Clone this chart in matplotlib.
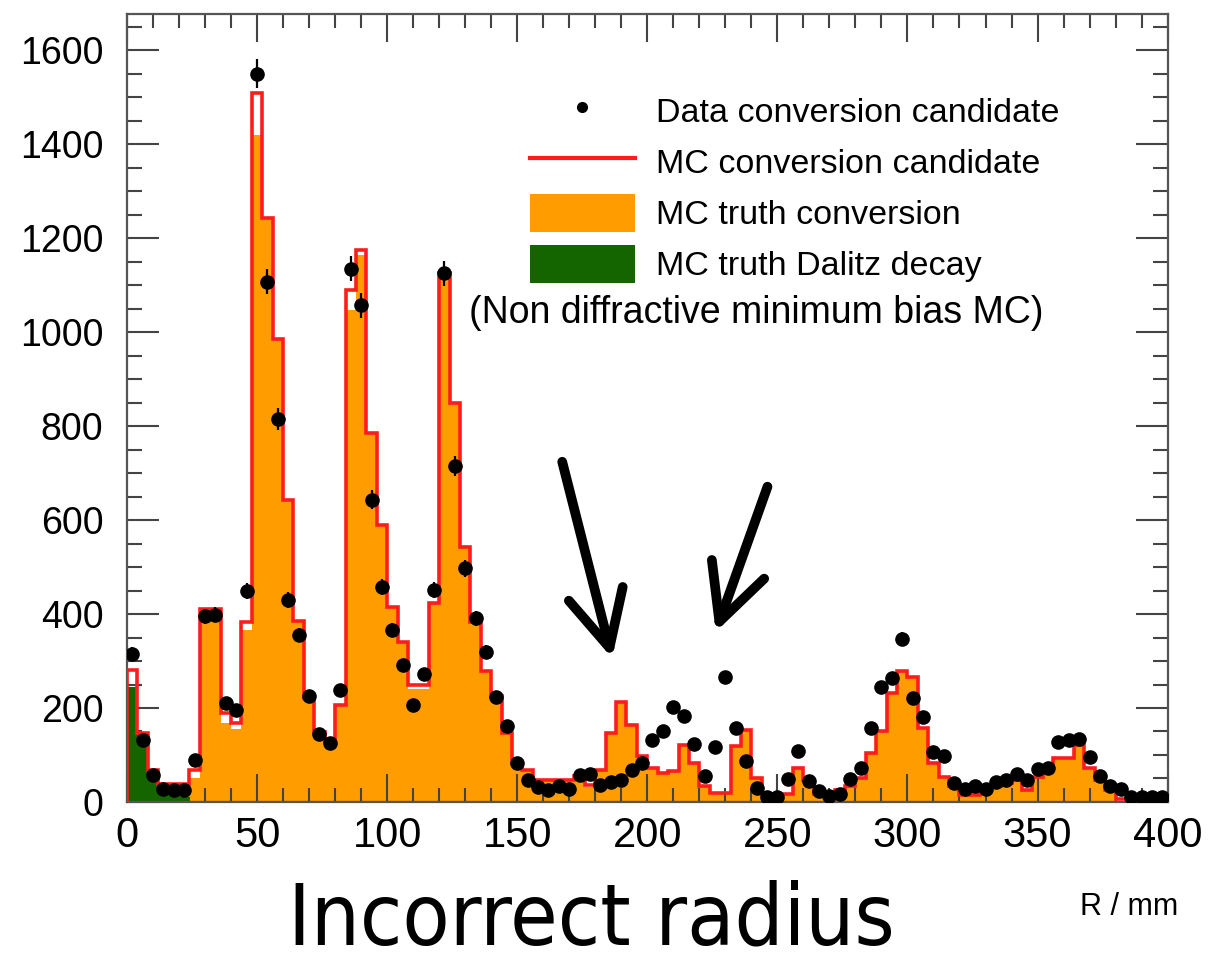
import numpy as np
import matplotlib
matplotlib.use("Agg")
import matplotlib.pyplot as plt
from matplotlib.lines import Line2D
from matplotlib.patches import Patch
from matplotlib.ticker import MultipleLocator

# radius histogram, 100 bins of 4 mm from 0 to 400 mm
bin_edges = np.linspace(0, 400, 101)

# MC conversion candidates (red outline)
mc_candidate = [
    281, 146, 68, 39, 38, 38, 68, 410, 410, 189,
    168, 384, 1508, 1242, 985, 643, 385, 222, 148, 130,
    206, 1089, 1174, 785, 589, 415, 341, 249, 249, 423,
    1125, 850, 542, 382, 278, 225, 147, 86, 68, 46,
    46, 46, 46, 55, 36, 68, 146, 213, 164, 98,
    72, 62, 66, 121, 82, 33, 19, 19, 119, 153,
    50, 18, 18, 18, 72, 47, 18, 18, 25, 35,
    50, 105, 150, 231, 279, 267, 158, 84, 54, 35,
    15, 15, 24, 33, 40, 47, 26, 54, 70, 93,
    93, 121, 72, 47, 25, 6, 3, 3, 3, 3,
]

# MC truth conversions (orange fill)
mc_truth_conv = [
    0, 0, 0, 0, 0, 28, 52, 405, 405, 168,
    155, 366, 1419, 1240, 985, 643, 385, 222, 148, 130,
    206, 1047, 1164, 785, 589, 415, 341, 240, 240, 423,
    1125, 850, 542, 382, 278, 225, 147, 86, 68, 46,
    46, 46, 46, 55, 32, 68, 146, 213, 164, 98,
    72, 62, 66, 121, 82, 33, 16, 16, 119, 153,
    50, 15, 15, 16, 72, 47, 16, 16, 25, 35,
    50, 105, 150, 231, 279, 267, 158, 84, 54, 35,
    15, 15, 24, 33, 40, 47, 26, 54, 70, 93,
    93, 121, 72, 47, 25, 2, 1, 1, 1, 1,
]

# MC truth Dalitz decays (green fill)
mc_truth_dalitz = [242, 142, 62, 36, 28, 8] + [0] * 94

# data conversion candidates (black points)
data_counts = [
    315, 132, 58, 28, 25, 25, 90, 395, 398, 210,
    195, 450, 1550, 1107, 815, 430, 355, 225, 145, 125,
    238, 1135, 1057, 643, 458, 366, 291, 206, 272, 451,
    1125, 715, 497, 391, 320, 224, 162, 84, 47, 32,
    25, 33, 27, 58, 60, 37, 42, 46, 68, 84,
    132, 150, 203, 182, 123, 56, 118, 265, 158, 87,
    30, 10, 10, 48, 108, 45, 23, 13, 18, 48,
    72, 157, 244, 263, 347, 221, 181, 107, 97, 41,
    27, 34, 28, 43, 46, 60, 46, 70, 72, 128,
    132, 134, 96, 55, 35, 27, 11, 10, 10, 11,
]

legend_labels = [
    "Data conversion candidate",
    "MC conversion candidate",
    "MC truth conversion",
    "MC truth Dalitz decay",
]
note_text = "(Non diffractive minimum bias MC)"

ORANGE = "#ff9c00"
GREEN = "#146400"
RED = "#ff1c1c"

plt.rcParams["font.family"] = ["Liberation Sans", "DejaVu Sans"]

fig = plt.figure(figsize=(12.15, 9.66), dpi=100)
ax = fig.add_axes([0.1045, 0.1698, 0.8565, 0.8157])

bin_centers = 0.5 * (bin_edges[:-1] + bin_edges[1:])
counts = np.array(data_counts, dtype=float)

ax.stairs(mc_truth_conv, bin_edges, fill=True, color=ORANGE, zorder=1)
ax.stairs(mc_truth_dalitz, bin_edges, fill=True, color=GREEN, zorder=2)
ax.stairs(mc_truth_dalitz, bin_edges, color=GREEN, lw=1.5, zorder=2)
ax.stairs(mc_candidate, bin_edges, color=RED, lw=2.6, zorder=3)
ax.errorbar(bin_centers, counts, yerr=0.8 * np.sqrt(counts), fmt="o",
            color="black", ms=9.5, elinewidth=1.6, capsize=0, zorder=4)

# hand drawn arrows pointing at the mismatch
arrow_kw = dict(arrowstyle="->,head_length=1.0,head_width=0.5",
                lw=7, color="black", mutation_scale=40,
                shrinkA=0, shrinkB=0, capstyle="round", joinstyle="round")
ax.annotate("", xy=(186.5, 306), xytext=(167.3, 724), arrowprops=arrow_kw)
ax.annotate("", xy=(226.3, 362), xytext=(246.2, 671), arrowprops=arrow_kw)

ax.set_xlim(0, 400)
ax.set_ylim(0, 1677)
ax.xaxis.set_major_locator(MultipleLocator(50))
ax.xaxis.set_minor_locator(MultipleLocator(10))
ax.yaxis.set_major_locator(MultipleLocator(200))
ax.yaxis.set_minor_locator(MultipleLocator(50))

ax.tick_params(axis="both", which="both", direction="in",
               top=True, right=True, color="#444444", width=1.5)
ax.tick_params(axis="y", which="major", length=23, labelsize=27, pad=17)
ax.tick_params(axis="y", which="minor", length=11)
ax.tick_params(axis="x", which="major", length=20, labelsize=30, pad=10)
ax.tick_params(axis="x", which="minor", length=10)
for spine in ax.spines.values():
    spine.set_color("#555555")
    spine.set_linewidth(1.6)

handles = [
    Line2D([], [], marker="o", ls="none", color="black", ms=7),
    Line2D([], [], color=RED, lw=3),
    Patch(facecolor=ORANGE, edgecolor="none"),
    Patch(facecolor=GREEN, edgecolor="none"),
]
ax.legend(handles, legend_labels, loc="upper left",
          bbox_to_anchor=(0.387, 0.901), frameon=False, fontsize=24.5,
          borderpad=0, borderaxespad=0, handlelength=3.08,
          handleheight=1.34, labelspacing=0.38, handletextpad=0.62)
ax.text(0.605, 0.62, note_text, transform=ax.transAxes, fontsize=27,
        ha="center", va="center")

fig.text(0.487, 0.022, "Incorrect radius", fontsize=62,
         family=["DejaVu Sans"], fontstretch="condensed",
         ha="center", va="baseline")
fig.text(0.97, 0.053, "R / mm", fontsize=22, ha="right", va="baseline")

fig.savefig("out.png", dpi=100)
